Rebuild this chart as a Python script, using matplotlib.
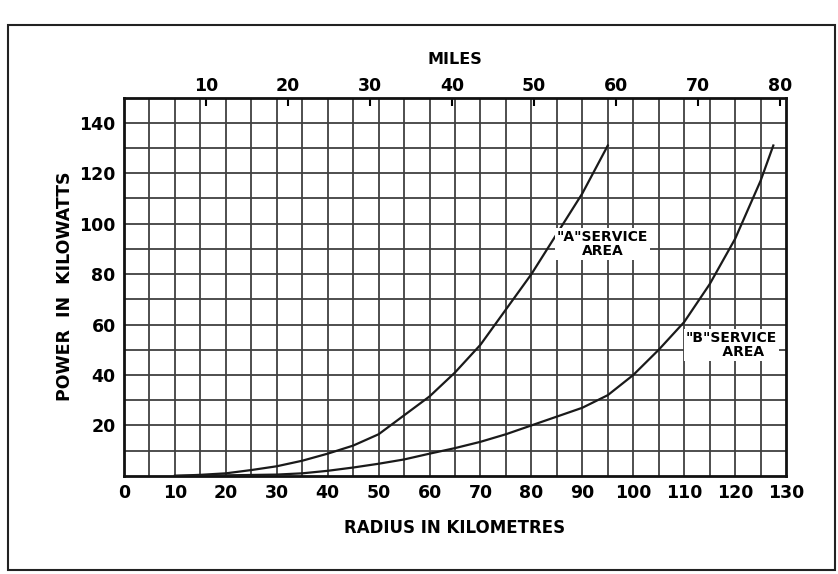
import matplotlib.pyplot as plt
from matplotlib.patches import Rectangle

plt.rcParams['font.family'] = ['DejaVu Sans']
plt.rcParams['font.weight'] = 'bold'

# radius (km) vs transmitter power (kW)
radius_a = [10, 15, 20, 25, 30, 35, 40, 45, 50, 55, 60, 65, 70, 75, 80, 85, 90, 95]
power_a = [0, 0.4, 1, 2.3, 3.8, 6, 8.8, 12, 16.5, 24, 31.5, 41, 52, 66, 80, 96, 112, 131]

radius_b = [10, 20, 30, 35, 40, 45, 50, 55, 60, 65, 70, 75, 80, 85, 90, 95,
            100, 105, 110, 115, 120, 125, 127.5]
power_b = [0, 0.2, 0.5, 1, 2, 3.3, 4.8, 6.5, 8.8, 11, 13.5, 16.5, 20, 23.5, 27, 32,
           40, 50, 61, 76, 94, 117, 131]

km_ticks = list(range(0, 131, 10))
kw_ticks = list(range(20, 141, 20))
mile_ticks = list(range(10, 81, 10))

KM_PER_MILE = 1.609344

fig = plt.figure(figsize=(8.38, 5.74), dpi=100)
ax = fig.add_axes([0.148, 0.171, 0.790, 0.659])

ax.set_xlim(0, 130)
ax.set_ylim(0, 150)

# graph paper: 5 km by 10 kW squares
for x in range(5, 130, 5):
    ax.axvline(x, color='#404040', lw=1.3, zorder=1)
for y in range(10, 150, 10):
    ax.axhline(y, color='#404040', lw=1.3, zorder=1)

ax.plot(radius_a, power_a, color='#1a1a1a', lw=1.6, zorder=3)
ax.plot(radius_b, power_b, color='#1a1a1a', lw=1.6, zorder=3)

box = dict(facecolor='white', edgecolor='none', pad=1.5)
ax.text(94, 92, '"A"SERVICE\nAREA', ha='center', va='center', fontsize=10,
        linespacing=1.0, bbox=box, zorder=4)
ax.text(119.3, 52, '"B"SERVICE\n     AREA', ha='center', va='center', fontsize=10,
        linespacing=1.0, bbox=box, zorder=4)

ax.set_xticks(km_ticks)
ax.set_yticks(kw_ticks)
ax.tick_params(axis='both', length=0, labelsize=12.5, pad=6)
for lab in ax.get_xticklabels() + ax.get_yticklabels():
    lab.set_fontweight('bold')

for side in ax.spines.values():
    side.set_linewidth(2)
    side.set_color('#111111')

ax.set_xlabel('RADIUS IN KILOMETRES', fontsize=12, fontweight='bold', labelpad=12)
ax.set_ylabel('POWER  IN  KILOWATTS', fontsize=12.5, fontweight='bold', labelpad=4)

# miles scale along the top edge
top = ax.secondary_xaxis('top', functions=(lambda k: k / KM_PER_MILE,
                                           lambda m: m * KM_PER_MILE))
top.set_xticks(mile_ticks)
top.tick_params(direction='in', length=6, width=1.5, labelsize=12.5, pad=2)
for lab in top.get_xticklabels():
    lab.set_fontweight('bold')
top.set_xlabel('MILES', fontsize=11.5, fontweight='bold', labelpad=9)

# outer border of the figure
fig.patches.append(Rectangle((0.010, 0.007), 0.987, 0.950, transform=fig.transFigure,
                             fill=False, lw=1.5, ec='#222222'))

fig.savefig('out.png', dpi=100, facecolor='white')
